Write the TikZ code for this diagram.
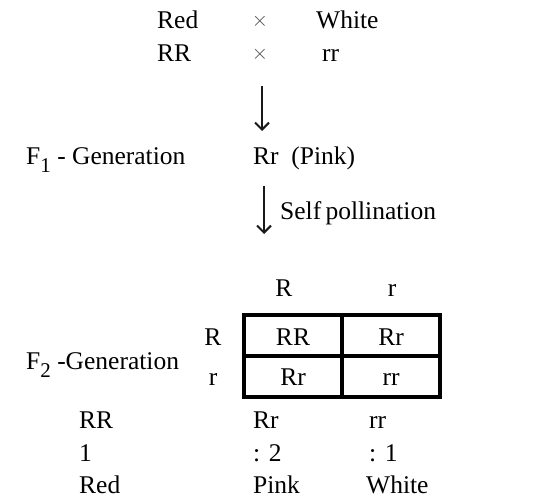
\documentclass[tikz,border=0pt]{standalone}
\usepackage{fontspec}
\setmainfont{Liberation Serif}
\usetikzlibrary{positioning, arrows.meta}

\newcommand{\gensub}[1]{\raisebox{-8pt}{\fontsize{21}{24}\selectfont #1}}

\begin{document}
\begin{tikzpicture}[
    x=1pt, y=-1pt,
    font=\fontsize{25.5}{30}\selectfont,
    >={Straight Barb[length=7pt, width=14pt, line width=2pt]},
    txt/.style={inner sep=0pt, anchor=base west},
    mid/.style={inner sep=0pt, anchor=base},
    cross/.style={inner sep=0pt, font=\fontsize{20}{22}\selectfont, text=black!70},
    grid/.style={line width=3.2pt},
    step arrow/.style={->, line width=2pt, black!90},
]
\useasboundingbox (0,0) rectangle (546,497);

% ---- Parents ----
\node[txt] (red) at (157,29) {Red};
\node[cross] (x1) at (260,21) {$\times$};
\node[txt] (white) at (316,29) {White};
\node[txt] (RR) at (157,62) {RR};
\node[cross] (x2) at (260,54) {$\times$};
\node[txt] (rr) at (322,62) {rr};

\coordinate (a1top) at (262,86);
\coordinate (a1end) at (262,131);
\draw[step arrow] (a1top) -- (a1end);

% ---- F1 ----
\node[txt] (f1) at (26,165) {F\gensub{1} - Generation};
\node[txt] (pink) at (253,165) {Rr\ \ (Pink)};

\coordinate (a2top) at (264,186);
\coordinate (a2end) at (264,234);
\draw[step arrow] (a2top) -- (a2end);
\node[txt] (self) at (280,220) {Self\,pollination};

% ---- F2 Punnett square ----
\node[mid] (colR) at (284,296) {R};
\node[mid] (colr) at (392,296) {r};
\node[mid] (rowR) at (213,345) {R};
\node[mid] (rowr) at (213,385) {r};

\draw[grid] (244,315) rectangle (440,397);
\draw[grid] (342,315) -- (342,397);
\draw[grid] (244,356) -- (440,356);

\node[mid] (c11) at (293,345) {RR};
\node[mid] (c12) at (391,345) {Rr};
\node[mid] (c21) at (293,385) {Rr};
\node[mid] (c22) at (391,385) {rr};

\node[txt] (f2) at (26,369) {F\gensub{2} -Generation};

% ---- Ratio ----
\node[txt] (gRR) at (79,428) {RR};
\node[txt] (gRr) at (253,428) {Rr};
\node[txt] (grr) at (369,428) {rr};
\node[txt] (n1) at (79,461) {1};
\node[txt] (n2) at (253,461) {: 2};
\node[txt] (n3) at (369,461) {: 1};
\node[txt] (pRed) at (79,493) {Red};
\node[txt] (pPink) at (253,493) {Pink};
\node[txt] (pWhite) at (366,493) {White};

\end{tikzpicture}
\end{document}
